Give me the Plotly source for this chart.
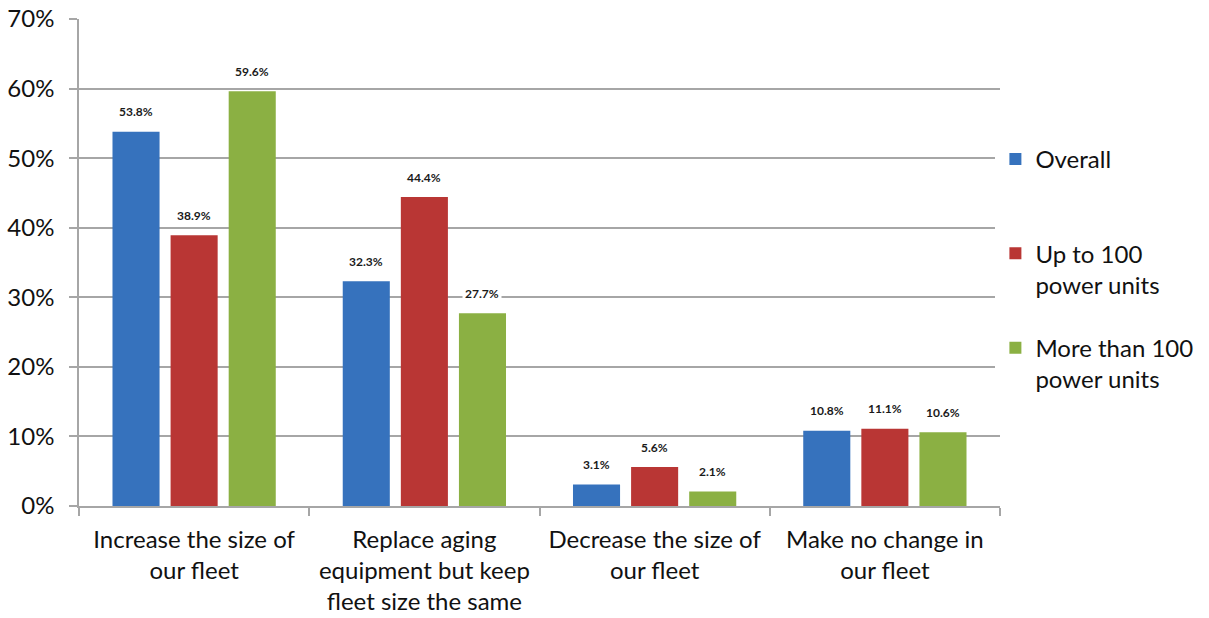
import plotly.graph_objects as go

categories = ["Increase the size of<br>our fleet",
              "Replace aging<br>equipment but keep<br>fleet size the same",
              "Decrease the size of<br>our fleet",
              "Make no change in<br>our fleet"]
series_names = ["Overall<br>&nbsp;", "Up to 100<br>power units", "More than 100<br>power units"]
overall = [53.8, 32.3, 3.1, 10.8]
up_to_100 = [38.9, 44.4, 5.6, 11.1]
more_than_100 = [59.6, 27.7, 2.1, 10.6]
y_ticks = [0, 10, 20, 30, 40, 50, 60, 70]
y_tick_labels = ["0%", "10%", "20%", "30%", "40%", "50%", "60%", "70%"]

series_values = [overall, up_to_100, more_than_100]
colors = ["#3672bd", "#b93634", "#8bb043"]
font_family = "Lato, 'Open Sans', sans-serif"

fig = go.Figure()
for name, vals, col in zip(series_names, series_values, colors):
    fig.add_trace(go.Bar(x=categories, y=vals, name=name,
                         marker=dict(color=col, line=dict(width=0)),
                         legendgroup=name))

shifts = [-58, 0, 58]
for vals, sh in zip(series_values, shifts):
    for c, v in zip(categories, vals):
        fig.add_annotation(x=c, y=v, text=f"<b>{v:.1f}%</b>", showarrow=False,
                           xshift=sh, yshift=20, bgcolor="white",
                           font=dict(family=font_family, size=12, color="#1a1a1a"),
                           borderpad=2)

fig.update_layout(
    width=1209, height=618,
    margin=dict(l=79, r=209, t=19, b=112, autoexpand=False),
    paper_bgcolor="white", plot_bgcolor="white",
    barmode="group", bargap=0.243, bargroupgap=0.19,
    font=dict(family=font_family, color="#111111"),
    legend=dict(x=0.995, y=0.758, xanchor="left", yanchor="top",
                font=dict(size=24), tracegroupgap=29, valign="top",
                itemwidth=30),
    showlegend=True,
)
fig.update_xaxes(showline=True, linecolor="#a6a6a6", linewidth=1.5,
                 ticks="outside", tickson="boundaries", ticklen=8,
                 tickcolor="#a6a6a6", tickwidth=1.5,
                 tickfont=dict(size=24, family=font_family),
                 ticklabelstandoff=11,
                 showgrid=False, automargin=False)
fig.update_yaxes(range=[0, 70], tickvals=y_ticks, ticktext=y_tick_labels,
                 showline=True, linecolor="#a6a6a6", linewidth=1.5,
                 ticks="outside", ticklen=8, tickcolor="#a6a6a6", tickwidth=1.5,
                 gridcolor="#a6a6a6", gridwidth=1.5,
                 tickfont=dict(size=24, family=font_family),
                 ticklabelstandoff=10, zeroline=False, automargin=False)

fig.write_html("out.html")
